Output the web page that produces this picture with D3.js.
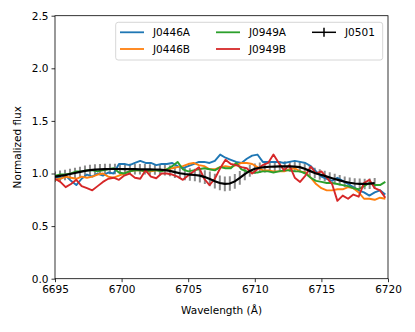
<!DOCTYPE html>
<html><head><meta charset="utf-8">
<script src="https://cdn.jsdelivr.net/npm/d3@7"></script>
<style>
html,body{margin:0;padding:0;background:#fff;}
svg{display:block;font-family:"DejaVu Sans",sans-serif;}
</style></head>
<body><svg id="chart" width="415" height="332"></svg>
<script>
// ---- data ----
const wave = [6695.0,6695.4,6695.8,6696.2,6696.6,6697.0,6697.4,6697.8,6698.2,6698.6,6699.0,6699.4,6699.8,6700.2,6700.6,6701.0,6701.4,6701.8,6702.2,6702.6,6703.0,6703.4,6703.8,6704.2,6704.6,6705.0,6705.4,6705.8,6706.2,6706.6,6707.0,6707.4,6707.8,6708.2,6708.6,6709.0,6709.4,6709.8,6710.2,6710.6,6711.0,6711.4,6711.8,6712.2,6712.6,6713.0,6713.4,6713.8,6714.2,6714.6,6715.0,6715.4,6715.8,6716.2,6716.6,6717.0,6717.4,6717.8,6718.2,6718.6,6719.0,6719.4,6719.8];
const fluxJ0446A = [0.97,0.95,0.98,0.93,0.89,0.95,0.99,0.97,1.00,0.98,1.01,1.00,1.09,1.09,1.08,1.10,1.12,1.10,1.10,1.08,1.09,1.09,1.10,1.07,1.05,1.07,1.09,1.11,1.11,1.10,1.12,1.18,1.15,1.13,1.11,1.10,1.14,1.17,1.18,1.11,1.11,1.11,1.11,1.10,1.11,1.12,1.11,1.10,1.07,1.02,0.97,0.95,0.93,0.96,0.93,0.90,0.87,0.84,0.82,0.79,0.82,0.84,0.80];
const fluxJ0446B = [0.94,0.95,0.97,0.96,0.95,0.97,0.96,0.97,0.99,1.00,0.97,0.96,0.98,1.00,1.02,1.03,1.03,1.02,1.02,1.03,1.03,1.04,1.05,1.06,1.07,1.09,1.10,1.08,1.07,1.04,1.04,1.06,1.07,1.06,1.08,1.10,1.10,1.09,1.06,1.03,1.03,1.02,1.02,1.02,1.04,1.05,1.02,1.01,0.96,0.90,0.86,0.84,0.84,0.85,0.85,0.87,0.86,0.82,0.76,0.76,0.75,0.77,0.76];
const fluxJ0949A = [0.98,0.99,0.99,1.00,1.02,1.02,1.03,1.03,1.02,1.03,1.04,1.05,1.01,1.00,1.02,1.03,1.03,1.02,1.03,1.03,1.02,1.04,1.07,1.11,1.04,1.02,1.03,1.04,1.05,1.04,1.03,1.06,1.05,1.05,1.10,1.04,1.02,1.01,1.01,1.02,1.02,1.01,1.02,1.03,1.03,1.02,1.02,1.00,0.96,0.93,0.92,0.91,0.91,0.90,0.89,0.88,0.86,0.85,0.88,0.91,0.89,0.89,0.92];
const fluxJ0949B = [0.95,0.92,0.87,0.90,0.94,0.88,0.86,0.84,0.88,0.92,0.95,0.96,0.94,0.98,1.00,0.96,0.95,1.03,0.97,0.955,1.00,1.00,0.99,0.97,0.94,0.98,1.02,1.06,0.95,0.89,0.95,1.05,1.13,1.09,1.08,1.06,1.05,1.00,1.04,1.08,1.10,1.18,1.10,1.03,1.08,0.96,0.92,0.98,1.065,1.00,1.02,0.96,0.90,0.74,0.79,0.76,0.80,0.78,0.91,0.94,0.86,0.84,0.77];

const waveJ0501 = [6695.000,6695.375,6695.750,6696.125,6696.500,6696.875,6697.250,6697.625,6698.000,6698.375,6698.750,6699.125,6699.500,6699.875,6700.250,6700.625,6701.000,6701.375,6701.750,6702.125,6702.500,6702.875,6703.250,6703.625,6704.000,6704.375,6704.750,6705.125,6705.500,6705.875,6706.250,6706.625,6707.000,6707.375,6707.750,6708.125,6708.500,6708.875,6709.250,6709.625,6710.000,6710.375,6710.750,6711.125,6711.500,6711.875,6712.250,6712.625,6713.000,6713.375,6713.750,6714.125,6714.500,6714.875,6715.250,6715.625,6716.000,6716.375,6716.750,6717.125,6717.500,6717.875,6718.250,6718.625,6719.000];
const fluxJ0501 = [0.970,0.978,0.985,0.995,1.005,1.015,1.025,1.032,1.037,1.040,1.042,1.043,1.043,1.043,1.042,1.042,1.041,1.040,1.040,1.039,1.038,1.036,1.032,1.025,1.013,1.002,0.995,0.990,0.986,0.980,0.966,0.948,0.927,0.910,0.901,0.905,0.925,0.958,0.995,1.025,1.045,1.055,1.060,1.064,1.066,1.067,1.067,1.067,1.066,1.060,1.045,1.025,1.005,0.990,0.977,0.962,0.948,0.935,0.922,0.912,0.905,0.902,0.901,0.903,0.908];
const errJ0501 = [0.05,0.05,0.05,0.05,0.05,0.05,0.05,0.05,0.05,0.05,0.05,0.05,0.05,0.05,0.05,0.05,0.05,0.05,0.05,0.05,0.05,0.05,0.05,0.05,0.055,0.055,0.06,0.06,0.06,0.065,0.065,0.07,0.07,0.07,0.07,0.07,0.07,0.065,0.06,0.055,0.05,0.05,0.05,0.05,0.05,0.05,0.05,0.05,0.05,0.05,0.05,0.05,0.05,0.05,0.05,0.05,0.05,0.05,0.05,0.05,0.05,0.05,0.05,0.05,0.05];

const seriesNames = ["J0446A","J0446B","J0949A","J0949B"];
const seriesColors = ["#1f77b4","#ff7f0e","#2ca02c","#d62728"];
const seriesFlux = [fluxJ0446A, fluxJ0446B, fluxJ0949A, fluxJ0949B];
const xTicks = [6695,6700,6705,6710,6715,6720];
const yTicks = [0.0,0.5,1.0,1.5,2.0,2.5];

// ---- layout ----
const W = 415, H = 332;
const m = {left:55, right:27, top:15.7, bottom:53.3};
const svg = d3.select("#chart");
svg.append("rect").attr("width",W).attr("height",H).attr("fill","#fff");

const x = d3.scaleLinear().domain([6695,6720]).range([m.left, W-m.right]);
const y = d3.scaleLinear().domain([0,2.5]).range([H-m.bottom, m.top]);

svg.append("defs").append("clipPath").attr("id","clip")
  .append("rect").attr("x",m.left).attr("y",m.top)
  .attr("width",W-m.left-m.right).attr("height",H-m.top-m.bottom);

const plot = svg.append("g").attr("clip-path","url(#clip)");

// error bars
plot.append("g").selectAll("line").data(waveJ0501).join("line")
  .attr("x1",(d)=>x(d)).attr("x2",(d)=>x(d))
  .attr("y1",(d,i)=>y(fluxJ0501[i]-errJ0501[i]))
  .attr("y2",(d,i)=>y(fluxJ0501[i]+errJ0501[i]))
  .attr("stroke","#8c8c8c").attr("stroke-width",2);

const line = d3.line().x(d=>x(d[0])).y(d=>y(d[1]));
seriesFlux.forEach((f,k)=>{
  plot.append("path").datum(wave.map((w,i)=>[w,f[i]]))
    .attr("d",line).attr("fill","none")
    .attr("stroke",seriesColors[k]).attr("stroke-width",1.9)
    .attr("stroke-linejoin","round");
});
plot.append("path").datum(waveJ0501.map((w,i)=>[w,fluxJ0501[i]]))
  .attr("d",line).attr("fill","none").attr("stroke","#000").attr("stroke-width",2.2);

// axes
const fs = "10.5px";
const xAxis = svg.append("g").attr("transform",`translate(0,${H-m.bottom})`)
  .call(d3.axisBottom(x).tickValues(xTicks).tickFormat(d3.format("d")).tickSizeOuter(0).tickSize(3.5).tickPadding(3));
const yAxis = svg.append("g").attr("transform",`translate(${m.left},0)`)
  .call(d3.axisLeft(y).tickValues(yTicks).tickFormat(d3.format(".1f")).tickSizeOuter(0).tickSize(3.5).tickPadding(3));
[xAxis,yAxis].forEach(a=>{
  a.select(".domain").remove();
  a.selectAll("text").attr("fill","#000").style("font-size",fs).style("font-family","DejaVu Sans");
  a.selectAll("line").attr("stroke","#000").attr("stroke-width",0.8);
});
// frame
svg.append("rect").attr("x",m.left).attr("y",m.top)
  .attr("width",W-m.left-m.right).attr("height",H-m.top-m.bottom)
  .attr("fill","none").attr("stroke","#000").attr("stroke-width",0.8);

svg.append("text").attr("x",(m.left+W-m.right)/2).attr("y",314)
  .attr("text-anchor","middle").style("font-size",fs).text("Wavelength (Å)");
svg.append("text").attr("transform",`translate(21,${(m.top+H-m.bottom)/2}) rotate(-90)`)
  .attr("text-anchor","middle").style("font-size",fs).text("Normalized flux");

// legend
const lg = svg.append("g");
lg.append("rect").attr("x",115.7).attr("y",22.3).attr("width",267).attr("height",37.7)
  .attr("rx",2.5).attr("fill","#fff").attr("fill-opacity",0.8)
  .attr("stroke","#ccc").attr("stroke-width",0.8);
const legItems = [
  {name:seriesNames[0], color:seriesColors[0], x:120, y:32.3},
  {name:seriesNames[1], color:seriesColors[1], x:120, y:49},
  {name:seriesNames[2], color:seriesColors[2], x:216, y:32.3},
  {name:seriesNames[3], color:seriesColors[3], x:216, y:49},
  {name:"J0501", color:"#000", x:312, y:32.3, err:true}
];
legItems.forEach(it=>{
  lg.append("line").attr("x1",it.x).attr("x2",it.x+24).attr("y1",it.y).attr("y2",it.y)
    .attr("stroke",it.color).attr("stroke-width",it.err?1.5:1.8);
  if(it.err){
    lg.append("line").attr("x1",it.x+12).attr("x2",it.x+12).attr("y1",it.y-4.5).attr("y2",it.y+4.5)
      .attr("stroke","#000").attr("stroke-width",1.5);
  }
  lg.append("text").attr("x",it.x+33).attr("y",it.y).attr("dy","0.35em")
    .style("font-size",fs).text(it.name);
});
</script></body></html>
